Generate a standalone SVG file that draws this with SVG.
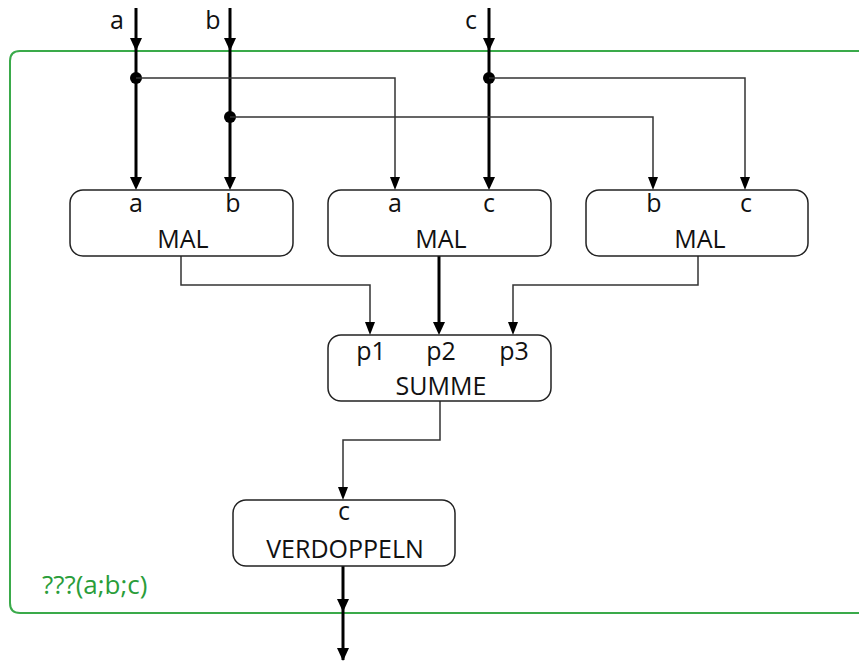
<svg xmlns="http://www.w3.org/2000/svg" width="859" height="661" viewBox="0 0 859 661">
<defs>
<style>
.box{fill:#fff;stroke:#222;stroke-width:1.5}
.t{font-family:"Open Sans","Noto Sans","DejaVu Sans",sans-serif;font-size:25px;fill:#111;text-anchor:middle}
.thick{fill:none;stroke:#000;stroke-width:3}
.thin{fill:none;stroke:#333;stroke-width:1.5}
.frame{fill:none;stroke:#3aaa4a;stroke-width:2}
.lbl{font-family:"Open Sans","Noto Sans","DejaVu Sans",sans-serif;font-size:26px;fill:#2a9d3a}
</style>
</defs>
<rect x="0" y="0" width="859" height="661" fill="#fff"/>
<path class="frame" d="M870,51 H20 Q10,51 10,61 V603 Q10,613 20,613 H870"/>
<text class="lbl" x="42" y="594">???(a;b;c)</text>
<g id="connectors">
<path class="thick" d="M136,8 V51"/>
<path d="M130,38 L142,38 L136,51 z" fill="#000"/>
<path class="thick" d="M136,51 V178"/>
<path d="M130,177 L142,177 L136,190 z" fill="#000"/>
<path class="thick" d="M230,8 V51"/>
<path d="M224,38 L236,38 L230,51 z" fill="#000"/>
<path class="thick" d="M230,51 V178"/>
<path d="M224,177 L236,177 L230,190 z" fill="#000"/>
<path class="thick" d="M489,8 V51"/>
<path d="M483,38 L495,38 L489,51 z" fill="#000"/>
<path class="thick" d="M489,51 V178"/>
<path d="M483,177 L495,177 L489,190 z" fill="#000"/>
<circle cx="136" cy="78" r="6" fill="#000"/>
<circle cx="230" cy="117" r="6" fill="#000"/>
<circle cx="489" cy="78" r="6" fill="#000"/>
<path class="thin" d="M136,78 H395 V180"/>
<path d="M390,177 L400,177 L395,190 z" fill="#000"/>
<path class="thin" d="M230,117 H653 V180"/>
<path d="M648,177 L658,177 L653,190 z" fill="#000"/>
<path class="thin" d="M489,78 H745 V180"/>
<path d="M740,177 L750,177 L745,190 z" fill="#000"/>
<path class="thin" d="M181,256 V285 H370 V325"/>
<path d="M365,322 L375,322 L370,335 z" fill="#000"/>
<path class="thick" d="M439,256 V325"/>
<path d="M433,322 L445,322 L439,335 z" fill="#000"/>
<path class="thin" d="M698,256 V285 H513 V325"/>
<path d="M508,322 L518,322 L513,335 z" fill="#000"/>
<path class="thin" d="M440,401 V440 H343 V490"/>
<path d="M338,487 L348,487 L343,500 z" fill="#000"/>
<path class="thick" d="M343,566 V660"/>
<path d="M337,599 L349,599 L343,612 z" fill="#000"/>
<path d="M337,648 L349,648 L343,661 z" fill="#000"/>
</g>
<g id="mal1">
<rect class="box" x="70" y="190" width="223" height="66" rx="13"/>
<text class="t" x="136" y="212">a</text>
<text class="t" x="233" y="212">b</text>
<text class="t" x="183" y="248">MAL</text>
</g>
<g id="mal2">
<rect class="box" x="328" y="190" width="223" height="66" rx="13"/>
<text class="t" x="395" y="212">a</text>
<text class="t" x="489" y="212">c</text>
<text class="t" x="441" y="248">MAL</text>
</g>
<g id="mal3">
<rect class="box" x="586" y="190" width="222" height="66" rx="13"/>
<text class="t" x="654" y="212">b</text>
<text class="t" x="746" y="212">c</text>
<text class="t" x="700" y="248">MAL</text>
</g>
<g id="summe">
<rect class="box" x="328" y="335" width="223" height="66" rx="13"/>
<text class="t" x="371" y="360">p1</text>
<text class="t" x="441" y="360">p2</text>
<text class="t" x="514" y="360">p3</text>
<text class="t" x="441" y="395">SUMME</text>
</g>
<g id="verdoppeln">
<rect class="box" x="233" y="500" width="222" height="66" rx="13"/>
<text class="t" x="344" y="520">c</text>
<text class="t" x="345" y="558">VERDOPPELN</text>
</g>
<g id="inputs">
<text class="t" x="117" y="29">a</text>
<text class="t" x="213" y="29">b</text>
<text class="t" x="471" y="29">c</text>
</g>
</svg>
